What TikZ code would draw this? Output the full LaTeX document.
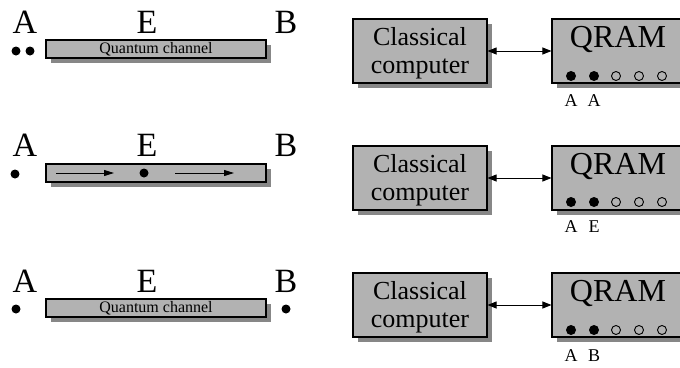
\documentclass[tikz,border=0pt]{standalone}
\usepackage{fontspec}
\setmainfont{Liberation Serif}
\usetikzlibrary{shadows,arrows.meta}
\definecolor{boxgray}{RGB}{178,178,178}
\definecolor{shadowgray}{RGB}{135,135,135}
\begin{document}
\begin{tikzpicture}[x=1pt,y=-1pt,
  box/.style={draw=black, line width=1.1pt, fill=boxgray, rectangle, inner sep=0pt,
    drop shadow={shadow xshift=4.5pt, shadow yshift=-4.5pt, fill=shadowgray, opacity=1}},
  bar/.style={box, minimum width=220pt, minimum height=18pt, font=\fontsize{16}{18}\selectfont},
  bigbox/.style={box, minimum height=64pt},
  letter/.style={anchor=base, inner sep=0pt, font=\fontsize{34}{36}\selectfont},
  cctxt/.style={anchor=base, inner sep=0pt, font=\fontsize{26}{28}\selectfont},
  qtxt/.style={anchor=base, inner sep=0pt, font=\fontsize{32}{34}\selectfont},
  lbl/.style={anchor=base, inner sep=0pt, font=\fontsize{18}{20}\selectfont},
  dot/.style={circle, fill=black, inner sep=0pt, minimum size=9pt},
  qdot/.style={circle, fill=black, inner sep=0pt, minimum size=10pt},
  odot/.style={circle, draw=black, line width=0.9pt, inner sep=0pt, minimum size=9pt},
  flow/.style={line width=0.9pt, -{Triangle[length=10pt,width=6pt]}},
  link/.style={line width=0.9pt, {Triangle[length=9pt,width=7pt]}-{Triangle[length=9pt,width=7pt]}}
]
\useasboundingbox (0,0) rectangle (680,367);
\clip (0,0) rectangle (680,367);

% ---------- Row 1 ----------
\node[letter] (A1) at (25,33) {A};
\node[letter] (E1) at (147,33) {E};
\node[letter] (B1) at (286,33) {B};
\node[dot] (a1x) at (16,51) {};
\node[dot] (a1y) at (30,51) {};
\node[bar] (ch1) at (156,49) {Quantum channel};

\node[bigbox, minimum width=134pt] (cc1) at (420,51) {};
\node[cctxt] (cc1a) at (420,45) {Classical};
\node[cctxt] (cc1b) at (420,73) {computer};
\node[bigbox, minimum width=132pt] (q1) at (618,51) {};
\node[qtxt] (q1t) at (618,47) {QRAM};
\draw[link] (cc1.east) -- (q1.west);
\node[qdot] (q1d1) at (571,76) {};
\node[qdot] (q1d2) at (594,76) {};
\node[odot] (q1d3) at (616,76) {};
\node[odot] (q1d4) at (639,76) {};
\node[odot] (q1d5) at (662,76) {};
\node[lbl] (q1l1) at (571,106) {A};
\node[lbl] (q1l2) at (594,106) {A};

% ---------- Row 2 ----------
\node[letter] (A2) at (25,156) {A};
\node[letter] (E2) at (147,156) {E};
\node[letter] (B2) at (286,156) {B};
\node[dot] (a2x) at (15,174) {};
\node[bar] (ch2) at (156,173) {};
\node[dot] (e2) at (144,173) {};
\coordinate (f1s) at (56,173);
\coordinate (f1e) at (114,173);
\coordinate (f2s) at (175,173);
\coordinate (f2e) at (234,173);
\draw[flow] (f1s) -- (f1e);
\draw[flow] (f2s) -- (f2e);

\node[bigbox, minimum width=134pt] (cc2) at (420,178) {};
\node[cctxt] (cc2a) at (420,172) {Classical};
\node[cctxt] (cc2b) at (420,200) {computer};
\node[bigbox, minimum width=132pt] (q2) at (618,178) {};
\node[qtxt] (q2t) at (618,174) {QRAM};
\draw[link] (cc2.east) -- (q2.west);
\node[qdot] (q2d1) at (571,202) {};
\node[qdot] (q2d2) at (594,202) {};
\node[odot] (q2d3) at (616,202) {};
\node[odot] (q2d4) at (639,202) {};
\node[odot] (q2d5) at (662,202) {};
\node[lbl] (q2l1) at (571,232) {A};
\node[lbl] (q2l2) at (594,232) {E};

% ---------- Row 3 ----------
\node[letter] (A3) at (25,292) {A};
\node[letter] (E3) at (147,292) {E};
\node[letter] (B3) at (286,292) {B};
\node[dot] (a3x) at (16,309) {};
\node[dot] (b3x) at (286,309) {};
\node[bar] (ch3) at (156,308) {Quantum channel};

\node[bigbox, minimum width=134pt] (cc3) at (420,305) {};
\node[cctxt] (cc3a) at (420,299) {Classical};
\node[cctxt] (cc3b) at (420,327) {computer};
\node[bigbox, minimum width=132pt] (q3) at (618,305) {};
\node[qtxt] (q3t) at (618,301) {QRAM};
\draw[link] (cc3.east) -- (q3.west);
\node[qdot] (q3d1) at (571,330) {};
\node[qdot] (q3d2) at (594,330) {};
\node[odot] (q3d3) at (616,330) {};
\node[odot] (q3d4) at (639,330) {};
\node[odot] (q3d5) at (662,330) {};
\node[lbl] (q3l1) at (571,361) {A};
\node[lbl] (q3l2) at (594,361) {B};
\end{tikzpicture}
\end{document}
